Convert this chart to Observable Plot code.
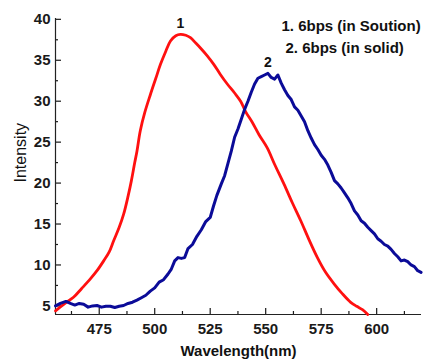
<!DOCTYPE html>
<html><head><meta charset="utf-8">
<script src="https://cdn.jsdelivr.net/npm/d3@7"></script>
<script src="https://cdn.jsdelivr.net/npm/@observablehq/plot@0.6"></script>
<style>
body{margin:0;background:#fff}
svg{font-family:"Liberation Sans",Arial,sans-serif}
</style>
</head><body><div id="chart"></div>
<script>
// Curve 1: 6bps in solution (red)
const redWl = [455.3,460,463.4,467,471,474,477,479.5,481.5,484,486,488,489.5,491,492,493.5,495.5,498.1,500.5,502.6,505,507.1,509.5,511.6,514,516.1,518.5,520.6,523.5,526.6,529.5,532.7,536,538.7,541,544,547,550.7,554,558.2,562,565.8,569.5,573.3,577,580.8,584.5,588.3,591,593.6,596];
const redI  = [4.4,5.4,6.05,7.1,8.3,9.3,10.5,11.6,12.96,14.6,16.2,18.4,20.3,22.5,23.9,26.4,28.6,30.85,32.8,34.5,36.1,37.35,38.0,38.17,38.05,37.76,37.1,36.5,35.6,34.5,33.3,32.1,31.0,30.0,28.7,27.4,25.9,24.3,22.3,19.9,17.6,15.4,13.1,10.9,9.1,7.7,6.5,5.44,4.95,4.55,3.95];
// Curve 2: 6bps in solid (blue)
const blueWl = [455.3,457.5,460,462,464,466,468,470,472,474,476,478,480,482,484,486,488,490,492,494,496,498,500,502,504,506,507.5,509,510.5,512,513.5,515,517,519,521,523,525,526.5,528,530,531.5,533,534.5,536,537.5,539,540.5,542,543.5,545,546.5,548,549.5,551,552.5,554,555.5,557,558.5,560,561.5,563,564.5,566,567.5,569,570.5,572,573.5,575,576.5,578,579.5,581,582.5,584,585.5,587,588.5,590,591.5,593,594.5,596,597.5,599,600.5,602,603.5,605,606.5,608,609.5,611,612.5,614,615.5,617,618.5,620];
const blueI  = [5.0,5.3,5.55,5.3,5.1,5.3,5.2,4.85,5.0,5.05,4.85,4.95,4.95,4.8,4.95,5.05,5.3,5.45,5.7,6.0,6.3,6.8,7.2,7.9,8.2,8.9,9.5,10.5,10.9,10.8,10.9,12.0,12.5,13.5,14.3,15.3,15.8,17.2,18.5,19.9,20.9,22.4,23.9,25.6,26.6,27.8,29.0,30.0,31.1,32.1,32.8,33.0,33.2,33.4,32.9,32.7,33.2,32.2,31.4,30.7,30.2,29.3,28.9,28.2,27.5,26.4,25.5,24.7,24.1,23.4,22.9,22.2,21.3,20.3,19.9,19.4,18.8,18.2,17.5,16.6,16.1,15.4,15.1,14.6,14.2,13.8,13.2,12.9,12.5,12.3,11.9,11.4,11.0,10.5,10.6,10.4,10.0,9.8,9.3,9.1];

const seriesNames = ["1", "2"];
const seriesColors = ["#ff1010", "#0b0b98"];
const legendLines = ["1. 6bps (in Soution)", "2. 6bps (in solid)"];

const xTicks = [475, 500, 525, 550, 575, 600];
const xMinor = [462.5, 487.5, 512.5, 537.5, 562.5, 587.5, 612.5];
const yTicks = [5, 10, 15, 20, 25, 30, 35, 40];
const yMinor = [7.5, 12.5, 17.5, 22.5, 27.5, 32.5, 37.5];
const xDomain = [455.3, 620.2];
const yDomain = [3.95, 40.1];
const xLabel = "Wavelength(nm)";
const yLabel = "Intensity";

const red = redWl.map((w, i) => ({wl: w, v: redI[i], s: seriesNames[0]}));
const blue = blueWl.map((w, i) => ({wl: w, v: blueI[i], s: seriesNames[1]}));
const peaks = [red, blue].map(arr => d3.greatest(arr, d => d.v));

const font = "Liberation Sans, Arial, sans-serif";
const none = () => "";
const chart = Plot.plot({
  width: 423, height: 364,
  marginLeft: 55, marginRight: 2, marginTop: 18, marginBottom: 50,
  style: {fontFamily: font, fontSize: "15px", background: "#fff", color: "#1a1a1a", overflow: "visible"},
  x: {domain: xDomain},
  y: {domain: yDomain},
  marks: [
    Plot.axisX({ticks: xTicks, tickSize: 0, tickPadding: 9, fontWeight: "bold", fontSize: 15, label: null}),
    Plot.axisX({ticks: xTicks, tickSize: 6, dy: -6, tickFormat: none, label: null, strokeWidth: 1.2}),
    Plot.axisX({ticks: xMinor, tickSize: 3, dy: -3, tickFormat: none, label: null, strokeWidth: 1.2}),
    Plot.axisY({ticks: yTicks, tickSize: 0, tickPadding: 5, fontWeight: "bold", fontSize: 15, label: null}),
    Plot.axisY({ticks: yTicks, tickSize: 6, dx: 6, tickFormat: none, label: null, strokeWidth: 1.2}),
    Plot.axisY({ticks: yMinor, tickSize: 3, dx: 3, tickFormat: none, label: null, strokeWidth: 1.2}),
    Plot.ruleX([xDomain[0]], {stroke: "#222", strokeWidth: 1.2}),
    Plot.ruleY([yDomain[0]], {stroke: "#222", strokeWidth: 1.2}),
    Plot.line(red, {x: "wl", y: "v", stroke: seriesColors[0], strokeWidth: 2.8, curve: "catmull-rom"}),
    Plot.line(blue, {x: "wl", y: "v", stroke: seriesColors[1], strokeWidth: 3}),
    Plot.text(peaks, {x: "wl", y: "v", text: "s", dy: -11, fontWeight: "bold", fontSize: 14, fill: "#111"}),
    Plot.text([legendLines[0]], {frameAnchor: "top-left", dx: 226, dy: 2, textAnchor: "start", fontWeight: "bold", fontSize: 15, fill: "#111"}),
    Plot.text([legendLines[1]], {frameAnchor: "top-left", dx: 230, dy: 24, textAnchor: "start", fontWeight: "bold", fontSize: 15, fill: "#111"}),
    Plot.text([xLabel], {frameAnchor: "bottom", dy: 41, fontWeight: "bold", fontSize: 15, fill: "#111"}),
    Plot.text([yLabel], {frameAnchor: "left", dx: -35, dy: 16, rotate: -90, fontSize: 16, fill: "#111"})
  ]
});
document.getElementById("chart").appendChild(chart);
</script>
</body></html>
